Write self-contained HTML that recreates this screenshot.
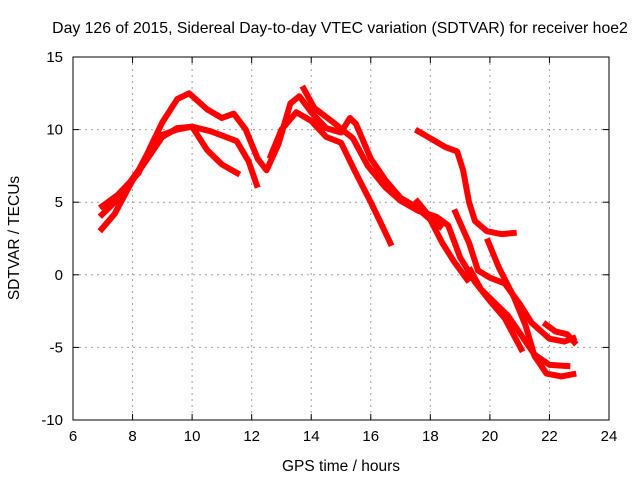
<!DOCTYPE html>
<html><head><meta charset="utf-8"><style>
body{margin:0;background:#fff}
svg{display:block;font-family:"Liberation Sans",Arial,sans-serif}
</style></head><body>
<svg width="640" height="480" xmlns="http://www.w3.org/2000/svg">
<rect width="640" height="480" fill="#fff"/>
<text x="340" y="33" font-size="15.8" text-anchor="middle">Day 126 of 2015, Sidereal Day-to-day VTEC variation (SDTVAR) for receiver hoe2</text>
<g id="grid"></g>
<g id="marks"></g>
<rect x="73" y="57" width="536" height="363" fill="none" stroke="#000" stroke-width="1"/>
<g id="ticks"></g>
<text x="341" y="471" font-size="15.5" text-anchor="middle">GPS time / hours</text>
<text transform="translate(19,238) rotate(-90)" font-size="15.5" text-anchor="middle">SDTVAR / TECUs</text>
</svg>
<script>
const xTicks=[6,8,10,12,14,16,18,20,22,24];
const yTicks=[15,10,5,0,-5,-10];
const trace1=[[6.9,4.6],[7.5,5.5],[8.2,7],[8.6,8.8],[9,10.5],[9.5,12.1],[9.9,12.5],[10.5,11.4],[11,10.8],[11.4,11.1],[11.8,10],[12.2,8],[12.5,7.2],[12.9,9],[13.3,11.8],[13.6,12.3],[14,11.2],[14.5,10.1],[15,9.8],[15.3,10.8],[15.5,10.4],[16,8],[16.5,6.5],[17,5.3],[17.5,4.7],[18,3.8],[18.4,3.2]];
const trace2=[[6.9,4],[7.5,5.2],[8.2,7.2],[8.8,9.5],[9.5,10],[10,10.2],[10.6,9.9],[11,9.6],[11.5,9.2],[11.9,7.8],[12.2,6]];
const trace3=[[6.9,3],[7.4,4.2],[8,6.5],[8.6,8.3],[9,9.5],[9.5,10.1],[10,10.2],[10.5,8.6],[11,7.6],[11.6,6.9]];
const trace4=[[12.6,8],[13,10],[13.5,11.2],[14,10.6],[14.5,9.5],[15,9.1],[15.5,7],[16,5],[16.4,3.3],[16.7,2]];
const trace5=[[13.7,13],[14.1,11.5],[14.8,10.4],[15.4,9.4],[15.9,7.5],[16.5,6],[17,5.1],[17.6,4.4],[18.2,4],[18.6,3.4],[19,1.2],[19.5,-0.5],[20,-1.8],[20.5,-3],[21.1,-5.3]];
const trace6=[[17.5,10],[18,9.4],[18.5,8.8],[18.9,8.5],[19.1,7.2],[19.3,5],[19.5,3.7],[19.9,3],[20.4,2.8],[20.9,2.9]];
const trace7=[[17.5,5.2],[17.9,4.2],[18.4,2.2],[18.8,0.9],[19.3,-0.5]];
const trace8=[[18.8,4.5],[19.3,2.2],[19.6,0.3],[20,-0.2],[20.5,-0.6],[21,-2],[21.4,-3.3],[22,-4.4],[22.5,-4.6],[22.9,-4.3]];
const trace9=[[19.3,0.5],[19.7,-1],[20.2,-2],[20.6,-2.8],[21,-4],[21.5,-5.5],[22,-6.2],[22.7,-6.3]];
const trace10=[[19.9,2.5],[20.3,0.5],[20.8,-1.5],[21.2,-3.5],[21.5,-5.6],[21.9,-6.8],[22.4,-7],[22.9,-6.8]];
const trace11=[[21.8,-3.3],[22.2,-3.9],[22.6,-4.1],[22.9,-4.8]];
const traces=[trace1,trace2,trace3,trace4,trace5,trace6,trace7,trace8,trace9,trace10,trace11];
const NS='http://www.w3.org/2000/svg';
const X=h=>73+(h-6)*(536/18);
const Y=v=>57+(15-v)*(363/25);
const grid=document.getElementById('grid'),ticks=document.getElementById('ticks'),marks=document.getElementById('marks');
function mk(t,a,p){const e=document.createElementNS(NS,t);for(const k in a)e.setAttribute(k,a[k]);p.appendChild(e);return e;}
xTicks.forEach(t=>{const x=X(t);
 if(t>6&&t<24){const g=mk('line',{x1:x,x2:x,y1:57,y2:420,stroke:'#a0a0a0','stroke-dasharray':'2,4'},grid);
 
 }
 mk('line',{x1:x,x2:x,y1:420,y2:414,stroke:'#000'},ticks);mk('line',{x1:x,x2:x,y1:57,y2:63,stroke:'#000'},ticks);
 const l=mk('text',{x:x,y:441,'font-size':15,'text-anchor':'middle'},ticks);l.textContent=t;
 
 });
yTicks.forEach(t=>{const y=Y(t);
 if(t<15&&t>-10){const g=mk('line',{x1:73,x2:609,y1:y,y2:y,stroke:'#a0a0a0','stroke-dasharray':'2,4'},grid);
 
 }
 mk('line',{x1:73,x2:79,y1:y,y2:y,stroke:'#000'},ticks);mk('line',{x1:603,x2:609,y1:y,y2:y,stroke:'#000'},ticks);
 const l=mk('text',{x:63,y:y+5,'font-size':15,'text-anchor':'end'},ticks);l.textContent=t;
 
 });
traces.forEach((tr,i)=>{const p=mk('polyline',{points:tr.map(d=>X(d[0])+','+Y(d[1])).join(' '),fill:'none',stroke:'#ff0000','stroke-width':6,'stroke-linejoin':'round'},marks);
 
 });
</script>
</body></html>
